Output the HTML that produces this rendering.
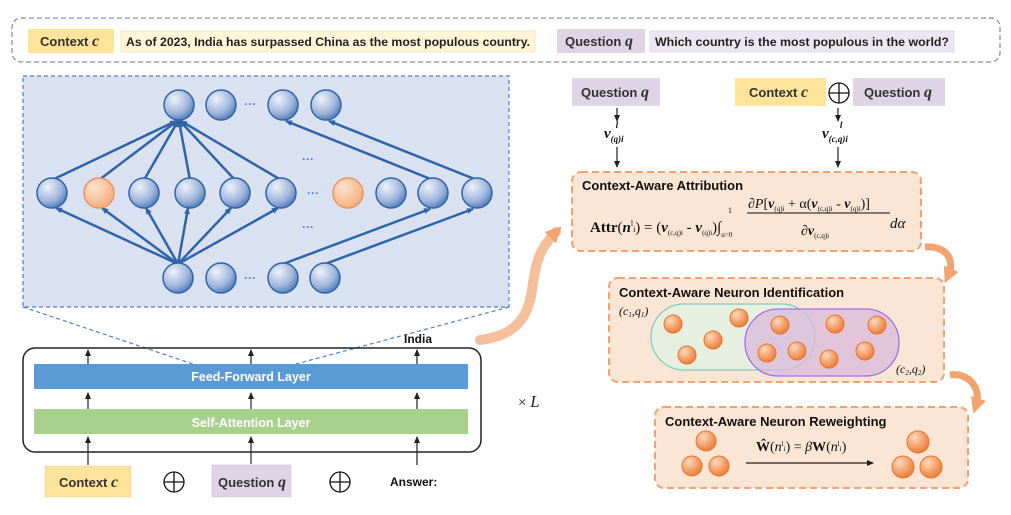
<!DOCTYPE html>
<html><head><meta charset="utf-8"><style>
html,body{margin:0;padding:0;background:#fff;}
svg{display:block;font-family:"Liberation Sans",sans-serif;}
.b{font-weight:bold;}
.m{font-family:"Liberation Serif",serif;}
</style></head><body>
<svg width="1011" height="515" viewBox="0 0 1011 515" xmlns="http://www.w3.org/2000/svg">
<defs>
<radialGradient id="gb" cx="0.35" cy="0.3" r="0.8"><stop offset="0" stop-color="#eef2fa"/><stop offset="0.6" stop-color="#9fb5dc"/><stop offset="1" stop-color="#3e6fb0"/></radialGradient>
<radialGradient id="go" cx="0.35" cy="0.3" r="0.8"><stop offset="0" stop-color="#fde3cf"/><stop offset="1" stop-color="#f3a878"/></radialGradient>
<radialGradient id="gr" cx="0.35" cy="0.3" r="0.8"><stop offset="0" stop-color="#fcd9bf"/><stop offset="0.6" stop-color="#f29a60"/><stop offset="1" stop-color="#e8742e"/></radialGradient>
<marker id="ab" markerWidth="8" markerHeight="8" refX="6" refY="3" orient="auto" markerUnits="userSpaceOnUse"><path d="M0,0 L7,3 L0,6 z" fill="#2f65a8"/></marker>
<marker id="ak" markerWidth="8" markerHeight="8" refX="6" refY="3" orient="auto" markerUnits="userSpaceOnUse"><path d="M0,0 L7,3 L0,6 z" fill="#222"/></marker>
<marker id="ao" markerWidth="20" markerHeight="20" refX="8" refY="8" orient="auto" markerUnits="userSpaceOnUse"><path d="M0,0 L16,8 L0,16 z" fill="#f1a46f"/></marker>
</defs>

<!-- top dashed box -->
<rect x="12" y="18" width="988" height="44" rx="9" fill="none" stroke="#888" stroke-width="1.2" stroke-dasharray="5,3"/>
<rect x="28" y="29" width="86" height="24" fill="#fde49a"/>
<text x="40" y="46" font-size="13" class="b" fill="#333">Context <tspan class="m" font-style="italic" font-size="16">c</tspan></text>
<rect x="121" y="31" width="414" height="21" fill="#fff6d8" stroke="#e8d9a8" stroke-width="0.6"/>
<text x="126" y="46" font-size="11.5" class="b" fill="#222" textLength="404" lengthAdjust="spacingAndGlyphs">As of 2023, India has surpassed China as the most populous country.</text>
<rect x="557" y="29" width="88" height="24" fill="#dfd3e6"/>
<text x="565" y="46" font-size="13" class="b" fill="#333">Question <tspan class="m" font-style="italic" font-size="16">q</tspan></text>
<rect x="650" y="31" width="304" height="21" fill="#ece6f3" stroke="#d6cde2" stroke-width="0.6"/>
<text x="655" y="46" font-size="11.5" class="b" fill="#222" textLength="294" lengthAdjust="spacingAndGlyphs">Which country is the most populous in the world?</text>

<!-- neural panel -->
<rect x="23" y="76" width="486" height="231" fill="#dae1f1" stroke="#4f7fc8" stroke-width="1.2" stroke-dasharray="4,3"/>
<g stroke="#2f65a8" stroke-width="2.5" fill="none" marker-end="url(#ab)">
<line x1="52" y1="180" x2="176" y2="121"/>
<line x1="99" y1="180" x2="177" y2="121"/>
<line x1="144" y1="180" x2="178" y2="121"/>
<line x1="190" y1="180" x2="179" y2="121"/>
<line x1="235" y1="180" x2="180" y2="121"/>
<line x1="281" y1="180" x2="181" y2="121"/>
<line x1="433" y1="180" x2="286" y2="121"/>
<line x1="477" y1="180" x2="329" y2="121"/>
<line x1="178" y1="264" x2="56" y2="208"/>
<line x1="178" y1="264" x2="102" y2="208"/>
<line x1="178" y1="264" x2="146" y2="208"/>
<line x1="178" y1="264" x2="188" y2="208"/>
<line x1="178" y1="264" x2="231" y2="208"/>
<line x1="178" y1="264" x2="278" y2="208"/>
<line x1="283" y1="264" x2="430" y2="209"/>
<line x1="325" y1="264" x2="473" y2="209"/>
</g>
<g stroke="#2f65a8" stroke-width="1.5" fill="url(#gb)">
<circle cx="179" cy="105" r="15"/><circle cx="221" cy="105" r="15"/><circle cx="283" cy="105" r="15"/><circle cx="326" cy="105" r="15"/>
<circle cx="52" cy="193" r="15"/><circle cx="144" cy="193" r="15"/><circle cx="190" cy="193" r="15"/><circle cx="235" cy="193" r="15"/><circle cx="281" cy="193" r="15"/><circle cx="391" cy="193" r="15"/><circle cx="433" cy="193" r="15"/><circle cx="477" cy="193" r="15"/>
<circle cx="178" cy="278" r="15"/><circle cx="221" cy="278" r="15"/><circle cx="283" cy="278" r="15"/><circle cx="325" cy="278" r="15"/>
</g>
<g stroke="#e8955c" stroke-width="1.5" fill="url(#go)">
<circle cx="99" cy="193" r="15"/><circle cx="348" cy="193" r="15"/>
</g>
<g fill="#4f7fd8" font-size="12" class="b">
<text x="244" y="108">···</text><text x="302" y="163">···</text><text x="307" y="197">···</text><text x="302" y="231">···</text><text x="244" y="282">···</text>
</g>

<!-- dashed projection lines -->
<line x1="23" y1="307" x2="193" y2="364" stroke="#4f7fc8" stroke-width="1.2" stroke-dasharray="4,3"/>
<line x1="509" y1="307" x2="296" y2="364" stroke="#4f7fc8" stroke-width="1.2" stroke-dasharray="4,3"/>

<!-- transformer -->
<rect x="23" y="348" width="458" height="104" rx="12" fill="none" stroke="#222" stroke-width="1.5"/>
<rect x="34" y="364" width="434" height="25" fill="#5b9bd5"/>
<text x="251" y="381" font-size="12.5" class="b" fill="#fff" text-anchor="middle">Feed-Forward Layer</text>
<rect x="34" y="409" width="434" height="25" fill="#a9d18e"/>
<text x="251" y="427" font-size="12.5" class="b" fill="#fff" text-anchor="middle">Self-Attention Layer</text>
<g stroke="#222" stroke-width="1.2" marker-end="url(#ak)">
<line x1="88" y1="364" x2="88" y2="350"/><line x1="251" y1="364" x2="251" y2="350"/><line x1="417" y1="364" x2="417" y2="350"/>
<line x1="88" y1="409" x2="88" y2="393"/><line x1="251" y1="409" x2="251" y2="393"/><line x1="417" y1="409" x2="417" y2="393"/>
<line x1="88" y1="465" x2="88" y2="437"/><line x1="251" y1="464" x2="251" y2="437"/><line x1="417" y1="465" x2="417" y2="437"/>
</g>
<text x="404" y="343" font-size="12" class="b" fill="#111">India</text>
<text x="518" y="407" font-size="15" fill="#222" class="m">× <tspan font-style="italic" font-size="17">L</tspan></text>

<rect x="45" y="466" width="86" height="31" fill="#fde49a" stroke="#e6d39a" stroke-width="0.6"/>
<text x="59" y="487" font-size="13" class="b" fill="#333">Context <tspan class="m" font-style="italic" font-size="16">c</tspan></text>
<rect x="212" y="465" width="79" height="32" fill="#dfd3e6" stroke="#cfc3d8" stroke-width="0.6"/>
<text x="218" y="487" font-size="13" class="b" fill="#333">Question <tspan class="m" font-style="italic" font-size="16">q</tspan></text>
<text x="390" y="486" font-size="12" class="b" fill="#111">Answer:</text>
<g stroke="#111" stroke-width="1.3" fill="none">
<circle cx="174" cy="482" r="10"/><line x1="164" y1="482" x2="184" y2="482"/><line x1="174" y1="472" x2="174" y2="492"/>
<circle cx="340" cy="482" r="10"/><line x1="330" y1="482" x2="350" y2="482"/><line x1="340" y1="472" x2="340" y2="492"/>
</g>

<!-- big orange curved arrow -->
<path d="M480,340 C515,336 528,318 532,290 C536,260 540,248 556,232" stroke="#f4c09c" stroke-width="10" fill="none" stroke-linecap="round" marker-end="url(#ao)"/>

<!-- right top inputs -->
<rect x="572" y="78" width="88" height="28" fill="#dfd3e6"/>
<text x="581" y="97" font-size="13" class="b" fill="#333">Question <tspan class="m" font-style="italic" font-size="16">q</tspan></text>
<rect x="735" y="78" width="91" height="28" fill="#fde49a"/>
<text x="749" y="97" font-size="13" class="b" fill="#333">Context <tspan class="m" font-style="italic" font-size="16">c</tspan></text>
<g stroke="#111" stroke-width="1.3" fill="none">
<circle cx="839" cy="93" r="10"/><line x1="829" y1="93" x2="849" y2="93"/><line x1="839" y1="83" x2="839" y2="103"/>
</g>
<rect x="853" y="78" width="92" height="28" fill="#dfd3e6"/>
<text x="864" y="97" font-size="13" class="b" fill="#333">Question <tspan class="m" font-style="italic" font-size="16">q</tspan></text>
<g stroke="#222" stroke-width="1.2" marker-end="url(#ak)">
<line x1="617" y1="108" x2="617" y2="121"/><line x1="617" y1="147" x2="617" y2="167"/>
<line x1="838" y1="108" x2="838" y2="121"/><line x1="838" y1="147" x2="838" y2="167"/>
</g>
<text x="604" y="138" class="m b" font-style="italic" font-size="15" fill="#111">v<tspan font-size="9" dy="4">(q)i</tspan><tspan font-size="9" dx="-8" dy="-14">l</tspan></text>
<text x="822" y="138" class="m b" font-style="italic" font-size="15" fill="#111">v<tspan font-size="9" dy="4">(c,q)i</tspan><tspan font-size="9" dx="-8" dy="-14">l</tspan></text>

<!-- attribution box -->
<rect x="572" y="172" width="349" height="79" rx="9" fill="#fbe5d4" stroke="#f0a36c" stroke-width="2" stroke-dasharray="7,4"/>
<text x="582" y="190" font-size="13" class="b" fill="#111">Context-Aware Attribution</text>
<text x="590" y="232" class="m" font-size="15" fill="#111"><tspan font-weight="bold">Attr</tspan>(<tspan font-style="italic" font-weight="bold">n</tspan><tspan font-size="8" dy="-6">l</tspan><tspan font-size="8" dy="6">i</tspan>) = (<tspan font-weight="bold" font-style="italic">v</tspan><tspan font-size="7" dy="3">(c,q)i</tspan><tspan dy="-3"> - </tspan><tspan font-weight="bold" font-style="italic">v</tspan><tspan font-size="7" dy="3">(q)i</tspan><tspan dy="-3">)∫</tspan><tspan font-size="7" dy="5">α=0</tspan></text>
<text x="728" y="213" class="m" font-size="8" fill="#111">1</text>
<line x1="747" y1="213" x2="890" y2="213" stroke="#111" stroke-width="1"/>
<text x="748" y="208" class="m" font-size="14" fill="#111"><tspan font-style="italic">∂P</tspan>[<tspan font-weight="bold" font-style="italic">v</tspan><tspan font-size="7" dy="3">(q)i</tspan><tspan dy="-3"> + α(</tspan><tspan font-weight="bold" font-style="italic">v</tspan><tspan font-size="7" dy="3">(c,q)i</tspan><tspan dy="-3"> - </tspan><tspan font-weight="bold" font-style="italic">v</tspan><tspan font-size="7" dy="3">(q)i</tspan><tspan dy="-3">)]</tspan></text>
<text x="801" y="235" class="m" font-size="14" fill="#111">∂<tspan font-weight="bold" font-style="italic">v</tspan><tspan font-size="7" dy="3">(c,q)i</tspan></text>
<text x="890" y="228" class="m" font-style="italic" font-size="15" fill="#111">dα</text>

<!-- identification box -->
<rect x="609" y="278" width="335" height="104" rx="9" fill="#fbe5d4" stroke="#f0a36c" stroke-width="2" stroke-dasharray="7,4"/>
<text x="619" y="297" font-size="13" class="b" fill="#111">Context-Aware Neuron Identification</text>
<text x="619" y="315" class="m" font-style="italic" font-size="12" fill="#111">(c<tspan font-size="7" dy="2">1</tspan><tspan dy="-2">,q</tspan><tspan font-size="7" dy="2">1</tspan><tspan dy="-2">)</tspan></text>
<text x="896" y="373" class="m" font-style="italic" font-size="12" fill="#111">(c<tspan font-size="7" dy="2">2</tspan><tspan dy="-2">,q</tspan><tspan font-size="7" dy="2">2</tspan><tspan dy="-2">)</tspan></text>
<rect x="651" y="304" width="164" height="66" rx="33" fill="#e6efe0" stroke="#7fcfc0" stroke-width="1.3"/>
<rect x="745" y="309" width="154" height="67" rx="33" fill="#d9b9dc" fill-opacity="0.75" stroke="#a070e8" stroke-width="1.3"/>
<g fill="url(#gr)" stroke="#e8742e" stroke-width="1">
<circle cx="673" cy="324" r="9"/><circle cx="713" cy="340" r="9"/><circle cx="687" cy="355" r="9"/><circle cx="739" cy="318" r="9"/>
<circle cx="780" cy="325" r="9"/><circle cx="767" cy="353" r="9"/><circle cx="797" cy="351" r="9"/>
<circle cx="835" cy="324" r="9"/><circle cx="877" cy="325" r="9"/><circle cx="829" cy="359" r="9"/><circle cx="865" cy="351" r="9"/>
</g>

<!-- reweighting box -->
<rect x="655" y="407" width="313" height="81" rx="9" fill="#fbe5d4" stroke="#f0a36c" stroke-width="2" stroke-dasharray="7,4"/>
<text x="665" y="426" font-size="13" class="b" fill="#111">Context-Aware Neuron Reweighting</text>
<text x="756" y="451" class="m" font-size="14" fill="#111"><tspan font-weight="bold">Ŵ</tspan>(<tspan font-style="italic">n</tspan><tspan font-size="7" dy="-5">l</tspan><tspan font-size="7" dy="5">i</tspan>) = <tspan font-style="italic">β</tspan><tspan font-weight="bold">W</tspan>(<tspan font-style="italic">n</tspan><tspan font-size="7" dy="-5">l</tspan><tspan font-size="7" dy="5">i</tspan>)</text>
<line x1="746" y1="463" x2="873" y2="463" stroke="#222" stroke-width="1.2" marker-end="url(#ak)"/>
<g fill="url(#gr)" stroke="#e8742e" stroke-width="1">
<circle cx="706" cy="441" r="10"/><circle cx="692" cy="466" r="10"/><circle cx="719" cy="466" r="10"/>
<circle cx="918" cy="442" r="11"/><circle cx="903" cy="467" r="11"/><circle cx="931" cy="467" r="11"/>
</g>

<!-- small orange curved arrows -->
<path d="M925,247 C945,246 956,258 948,276" stroke="#f1a46f" stroke-width="7" fill="none" marker-end="url(#ao)"/>
<path d="M950,375 C968,372 982,388 976,406" stroke="#f1a46f" stroke-width="7" fill="none" marker-end="url(#ao)"/>
</svg>
</body></html>
